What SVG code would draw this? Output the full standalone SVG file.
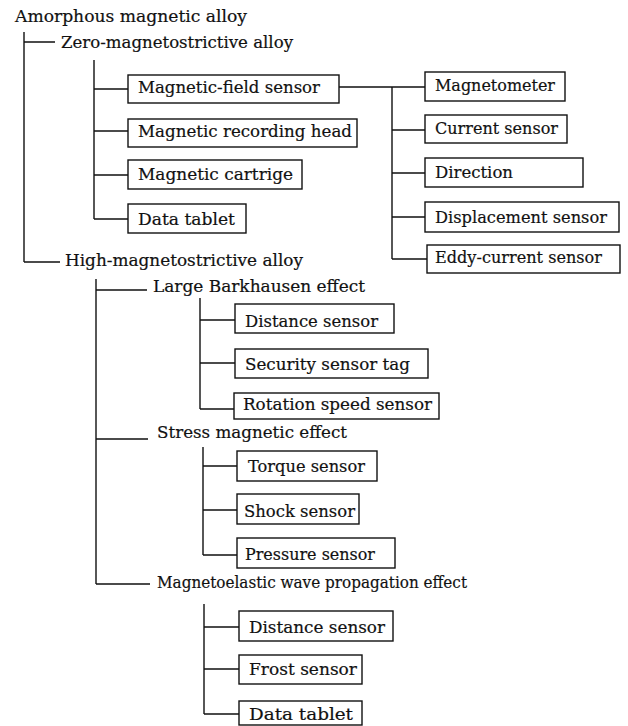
<svg xmlns="http://www.w3.org/2000/svg" width="628" height="726" viewBox="0 0 628 726">
<style>
text{font-family:"DejaVu Serif","Liberation Serif",serif;font-size:17.5px;fill:#111;stroke:#111;stroke-width:0.2}
rect.b{fill:#fff;stroke:#111;stroke-width:1.4}
#connectors path{fill:none;stroke:#111;stroke-width:1.4}
</style>
<rect width="628" height="726" fill="#fff"/>
<g id="connectors">
<path d="M24 32V262M24 42H55M24 262H60"/>
<path d="M94 60V219M94 89H128M94 131H128M94 175H128M94 219H128"/>
<path d="M339 87H425M392 87V259M392 130H425M392 173H425M392 217H425M392 259H427"/>
<path d="M96 279V584M96 290H147M96 439H148M96 584H150"/>
<path d="M200 298V409M200 320H235M200 363H235M200 409H234"/>
<path d="M203 447V555M203 466H237M203 510H237M203 555H237"/>
<path d="M204 604V714M204 627H239M204 669H239M204 714H239"/>
</g>
<g id="n-root"><text x="15" y="22" textLength="232" lengthAdjust="spacingAndGlyphs">Amorphous magnetic alloy</text></g>
<g id="n-zero"><text x="61" y="48" textLength="232" lengthAdjust="spacingAndGlyphs">Zero-magnetostrictive alloy</text></g>
<g id="n-mfs"><rect class="b" x="128" y="75" width="211" height="28"/><text x="138" y="93" textLength="182" lengthAdjust="spacingAndGlyphs">Magnetic-field sensor</text></g>
<g id="n-mrh"><rect class="b" x="128" y="119" width="229" height="28"/><text x="138" y="137" textLength="214" lengthAdjust="spacingAndGlyphs">Magnetic recording head</text></g>
<g id="n-mc"><rect class="b" x="128" y="160" width="174" height="29"/><text x="138" y="180" textLength="155" lengthAdjust="spacingAndGlyphs">Magnetic cartrige</text></g>
<g id="n-dt1"><rect class="b" x="128" y="204" width="118" height="29"/><text x="138" y="225" textLength="97" lengthAdjust="spacingAndGlyphs">Data tablet</text></g>
<g id="n-magnetometer"><rect class="b" x="425" y="72" width="140" height="29"/><text x="435" y="91" textLength="120" lengthAdjust="spacingAndGlyphs">Magnetometer</text></g>
<g id="n-current"><rect class="b" x="425" y="115" width="142" height="28"/><text x="435" y="134" textLength="123" lengthAdjust="spacingAndGlyphs">Current sensor</text></g>
<g id="n-direction"><rect class="b" x="425" y="158" width="158" height="29"/><text x="435" y="178" textLength="78" lengthAdjust="spacingAndGlyphs">Direction</text></g>
<g id="n-displacement"><rect class="b" x="425" y="202" width="194" height="30"/><text x="435" y="223" textLength="172" lengthAdjust="spacingAndGlyphs">Displacement sensor</text></g>
<g id="n-eddy"><rect class="b" x="427" y="245" width="193" height="28"/><text x="435" y="263" textLength="167" lengthAdjust="spacingAndGlyphs">Eddy-current sensor</text></g>
<g id="n-high"><text x="65" y="266" textLength="238" lengthAdjust="spacingAndGlyphs">High-magnetostrictive alloy</text></g>
<g id="n-barkhausen"><text x="153" y="292" textLength="212" lengthAdjust="spacingAndGlyphs">Large Barkhausen effect</text></g>
<g id="n-distance1"><rect class="b" x="235" y="304" width="159" height="29"/><text x="245" y="327" textLength="133" lengthAdjust="spacingAndGlyphs">Distance sensor</text></g>
<g id="n-security"><rect class="b" x="235" y="349" width="193" height="29"/><text x="245" y="370" textLength="165" lengthAdjust="spacingAndGlyphs">Security sensor tag</text></g>
<g id="n-rotation"><rect class="b" x="234" y="393" width="205" height="26"/><text x="243" y="410" textLength="189" lengthAdjust="spacingAndGlyphs">Rotation speed sensor</text></g>
<g id="n-stress"><text x="157" y="438" textLength="190" lengthAdjust="spacingAndGlyphs">Stress magnetic effect</text></g>
<g id="n-torque"><rect class="b" x="237" y="451" width="140" height="30"/><text x="248" y="472" textLength="117" lengthAdjust="spacingAndGlyphs">Torque sensor</text></g>
<g id="n-shock"><rect class="b" x="237" y="494" width="122" height="30"/><text x="244" y="517" textLength="111" lengthAdjust="spacingAndGlyphs">Shock sensor</text></g>
<g id="n-pressure"><rect class="b" x="237" y="538" width="158" height="30"/><text x="245" y="560" textLength="130" lengthAdjust="spacingAndGlyphs">Pressure sensor</text></g>
<g id="n-magnetoelastic"><text x="157" y="588" textLength="310" lengthAdjust="spacingAndGlyphs">Magnetoelastic wave propagation effect</text></g>
<g id="n-distance2"><rect class="b" x="239" y="611" width="154" height="30"/><text x="249" y="633" textLength="136" lengthAdjust="spacingAndGlyphs">Distance sensor</text></g>
<g id="n-frost"><rect class="b" x="239" y="655" width="123" height="29"/><text x="249" y="675" textLength="108" lengthAdjust="spacingAndGlyphs">Frost sensor</text></g>
<g id="n-dt2"><rect class="b" x="239" y="701" width="123" height="24"/><text x="249" y="720" textLength="104" lengthAdjust="spacingAndGlyphs">Data tablet</text></g>
</svg>
